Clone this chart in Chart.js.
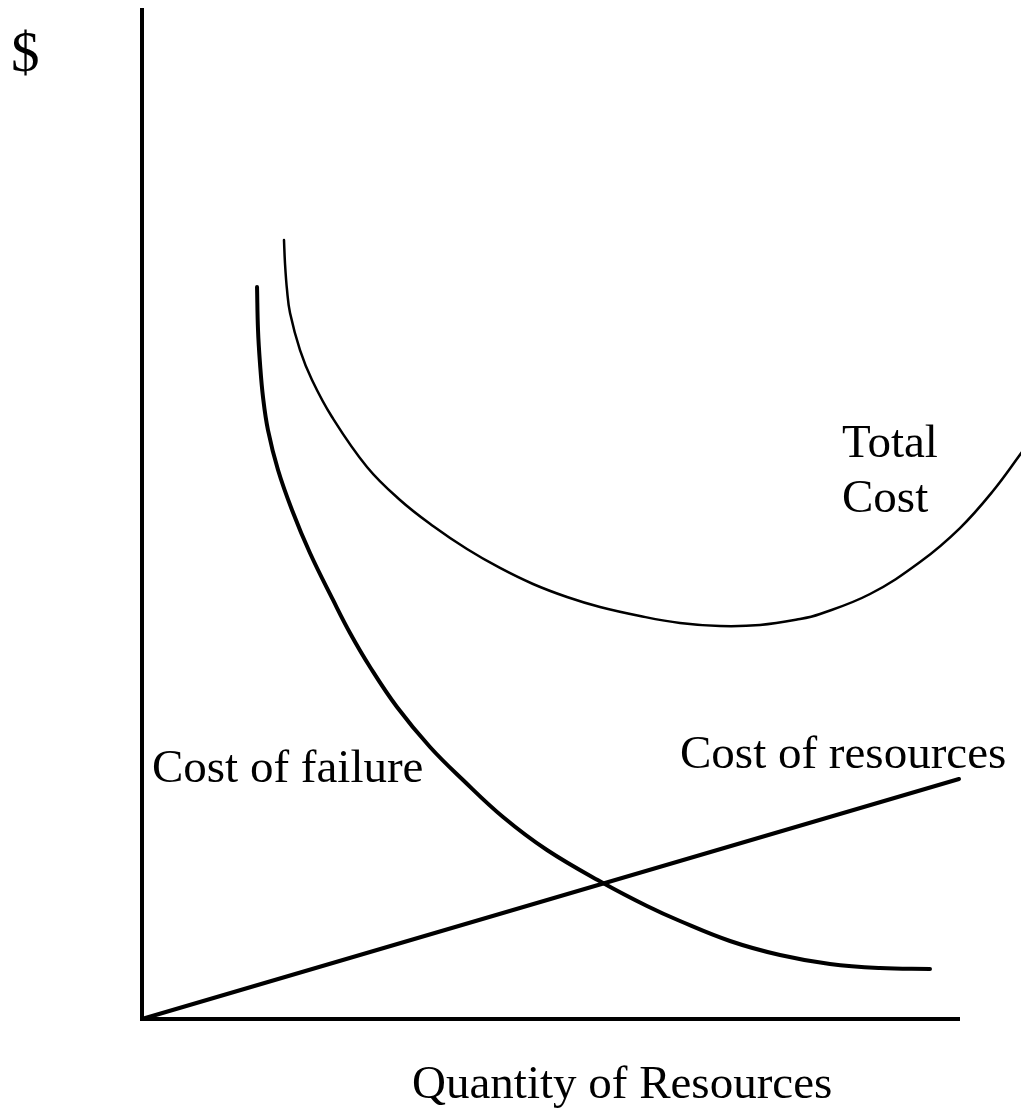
<!DOCTYPE html>
<html>
<head>
<meta charset="utf-8">
<title>Cost of resources vs cost of failure</title>
<script src="https://cdn.jsdelivr.net/npm/chart.js@4.4.0/dist/chart.umd.min.js"></script>
<style>
  body { margin: 0; background: #fff; }
  canvas { display: block; }
</style>
</head>
<body>
<canvas id="myChart" width="1021" height="1108"></canvas>
<script>
// quantity of resources (x) and $ (y), arbitrary 0-100 units
var failureX = [14.08, 14.20, 14.44, 14.81, 15.42, 16.65, 18.36, 20.56, 23.38, 25.46, 27.91, 31.21, 35.25, 39.29, 44.19, 49.57, 56.43, 61.81, 65.85, 71.97, 78.09, 84.21, 90.33, 96.45];
var failureY = [72.55, 68.29, 65.01, 61.65, 58.37, 54.41, 50.45, 46.18, 41.53, 38.26, 34.89, 30.92, 26.96, 23.69, 20.02, 16.75, 13.48, 11.20, 9.71, 7.73, 6.34, 5.45, 5.05, 4.96];

var totalX = [17.38, 17.50, 17.75, 18.12, 19.34, 20.81, 23.26, 27.54, 31.58, 35.62, 39.78, 43.82, 47.86, 52.02, 56.06, 60.95, 65.85, 70.75, 75.64, 80.54, 82.99, 89.11, 95.23, 100.12, 104.16, 107.71];
var totalY = [77.21, 74.93, 72.25, 69.97, 66.30, 63.33, 59.66, 54.71, 51.44, 48.86, 46.58, 44.70, 43.11, 41.82, 40.83, 39.94, 39.25, 38.95, 39.05, 39.64, 40.14, 42.12, 45.29, 48.66, 52.33, 56.19];

var resourcesX = [0, 100];
var resourcesY = [0, 23.79];

// text labels: [text, x, y, font size]
var labels = [
  ["$", -16.03, 93.95, 57],
  ["Total", 85.68, 55.70, 47],
  ["Cost", 85.68, 50.25, 47],
  ["Cost of resources", 65.85, 24.88, 47],
  ["Cost of failure", 1.22, 23.49, 47],
  ["Quantity of Resources", 33.05, -7.83, 47]
];

function pts(xs, ys) {
  var out = [];
  for (var i = 0; i < xs.length; i++) out.push({x: xs[i], y: ys[i]});
  return out;
}

var textPlugin = {
  id: "sketchText",
  afterDraw: function(chart) {
    var ctx = chart.ctx;
    var sx = chart.scales.x, sy = chart.scales.y;
    ctx.save();
    ctx.fillStyle = "#000";
    ctx.textAlign = "left";
    ctx.textBaseline = "alphabetic";
    labels.forEach(function(l) {
      ctx.font = l[3] + 'px "Liberation Serif", "Times New Roman", serif';
      ctx.fillText(l[0], sx.getPixelForValue(l[1]), sy.getPixelForValue(l[2]));
    });
    ctx.restore();
  }
};

new Chart("myChart", {
  type: "line",
  data: {
    datasets: [
      {
        label: "Cost of failure",
        data: pts(failureX, failureY),
        borderColor: "#000",
        borderWidth: 4,
        tension: 0.4,
        borderCapStyle: "round",
        borderJoinStyle: "round",
        pointRadius: 0,
        fill: false,
        clip: false
      },
      {
        label: "Total Cost",
        // reversed so chart.js keeps the points past the right edge of the axis
        data: pts(totalX, totalY).reverse(),
        borderColor: "#000",
        borderWidth: 2.5,
        tension: 0.4,
        borderCapStyle: "round",
        borderJoinStyle: "round",
        pointRadius: 0,
        fill: false,
        clip: false
      },
      {
        label: "Cost of resources",
        data: pts(resourcesX, resourcesY),
        borderColor: "#000",
        borderWidth: 4,
        borderCapStyle: "round",
        pointRadius: 0,
        fill: false,
        clip: false
      }
    ]
  },
  options: {
    responsive: false,
    animation: false,
    devicePixelRatio: 1,
    layout: { padding: { left: 142, top: 10, right: 62, bottom: 89 } },
    plugins: {
      legend: { display: false },
      tooltip: { enabled: false }
    },
    scales: {
      x: {
        type: "linear",
        min: 0,
        max: 100,
        ticks: { display: false },
        grid: { display: false, drawTicks: false, tickLength: 0 },
        border: { display: true, color: "#000", width: 4 }
      },
      y: {
        type: "linear",
        min: 0,
        max: 100,
        ticks: { display: false },
        grid: { display: false, drawTicks: false, tickLength: 0 },
        border: { display: true, color: "#000", width: 4 }
      }
    }
  },
  plugins: [textPlugin]
});
</script>
</body>
</html>
